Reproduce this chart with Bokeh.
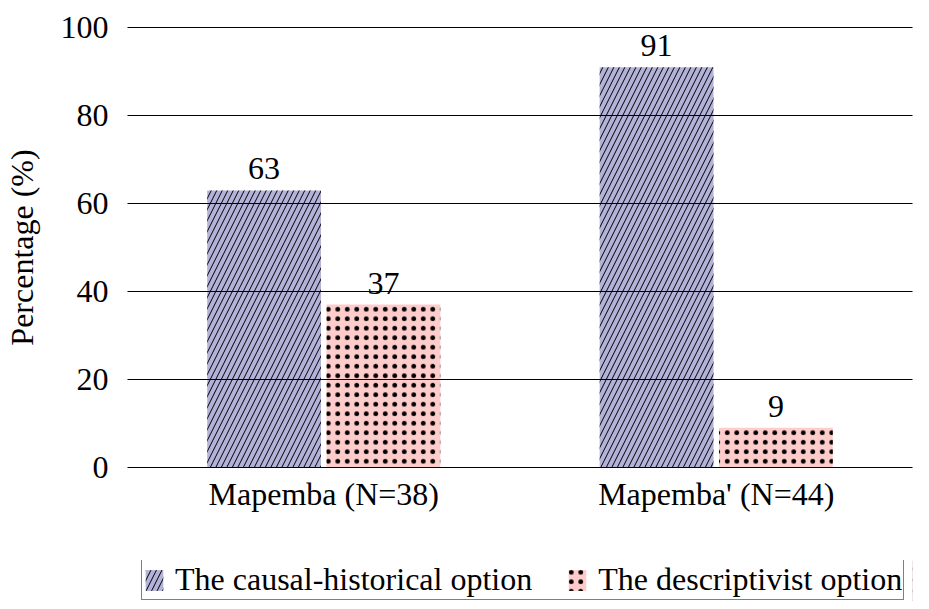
from bokeh.plotting import figure
from bokeh.models import ColumnDataSource, Legend, LegendItem, FactorRange, LabelSet
from bokeh.layouts import column
from bokeh.transform import dodge
from bokeh.embed import file_html
from bokeh.resources import INLINE

categories = ["Mapemba (N=38)", "Mapemba' (N=44)"]
causal = [63, 91]
descriptivist = [37, 9]
series_names = ["The causal-historical option", "The descriptivist option"]
y_ticks = [0, 20, 40, 60, 80, 100]

FONT = "Liberation Serif"
FS = "32px"
BLUE = "#b3b3d9"
PINK = "#ffcccc"
CAUSAL_STYLE = dict(fill_color=BLUE, line_color=None, hatch_pattern="/",
                    hatch_color="black", hatch_scale=11, hatch_weight=1)
DESC_STYLE = dict(fill_color=PINK, line_color=None, hatch_pattern=".",
                  hatch_color="black", hatch_scale=9.5, hatch_weight=1.5)

src = ColumnDataSource(dict(
    cat=categories,
    causal=causal,
    desc=descriptivist,
    causal_lbl=[str(v) for v in causal],
    desc_lbl=[str(v) for v in descriptivist],
))

p = figure(x_range=FactorRange(*categories, range_padding=0), y_range=(-0.3, 100.3),
           width=921, height=560, output_backend="svg", toolbar_location=None,
           min_border_left=125, min_border_right=9, min_border_top=26, min_border_bottom=92)

r1 = p.vbar(x=dodge("cat", -0.152, range=p.x_range), top="causal", width=0.29, bottom=0,
            source=src, **CAUSAL_STYLE)
r2 = p.vbar(x=dodge("cat", 0.152, range=p.x_range), top="desc", width=0.29, bottom=0,
            source=src, **DESC_STYLE)

for off, col in ((-0.152, "causal"), (0.152, "desc")):
    p.add_layout(LabelSet(x=dodge("cat", off, range=p.x_range), y=col, text=col + "_lbl",
                          source=src, text_align="center", text_baseline="alphabetic",
                          y_offset=11, text_font=FONT, text_font_size=FS,
                          text_color="black"))

p.xgrid.visible = False
p.ygrid.grid_line_color = "black"
p.ygrid.grid_line_alpha = 1.0
p.ygrid.grid_line_width = 1
p.ygrid.level = "overlay"
p.yaxis.ticker = y_ticks
p.outline_line_color = None

for ax in (p.xaxis[0], p.yaxis[0]):
    ax.axis_line_color = None
    ax.major_tick_line_color = None
    ax.minor_tick_line_color = None
    ax.major_label_text_font = FONT
    ax.major_label_text_font_size = FS
    ax.major_label_text_color = "black"

p.yaxis.axis_label = "Percentage (%)"
p.yaxis.axis_label_text_font = FONT
p.yaxis.axis_label_text_font_size = FS
p.yaxis.axis_label_text_font_style = "normal"
p.yaxis.axis_label_text_color = "black"
p.yaxis.major_label_standoff = 13
p.yaxis.axis_label_standoff = 18
p.xaxis.major_label_standoff = 1

# separate strip for the legend, below the chart (proxy glyphs lie outside its range)
lf = figure(width=921, height=41, x_range=(0, 1), y_range=(0, 1),
            x_axis_type=None, y_axis_type=None,
            output_backend="svg", toolbar_location=None,
            min_border_left=0, min_border_right=0, min_border_top=0, min_border_bottom=0)
lf.grid.visible = False
lf.outline_line_color = None
proxy = ColumnDataSource(dict(x=[10], top=[1]))
l1 = lf.vbar(x="x", top="top", width=0.1, source=proxy, **CAUSAL_STYLE)
l2 = lf.vbar(x="x", top="top", width=0.1, source=proxy, **DESC_STYLE)
legend = Legend(items=[LegendItem(label=series_names[0], renderers=[l1]),
                       LegendItem(label=series_names[1], renderers=[l2])],
                orientation="horizontal", location=(14, 1),
                label_text_font=FONT, label_text_font_size=FS, label_text_color="black",
                border_line_color="black", border_line_width=1,
                background_fill_color="white", background_fill_alpha=1.0,
                padding=1, spacing=34, margin=0,
                glyph_width=22, glyph_height=26, label_standoff=10,
                label_height=30)
lf.add_layout(legend, "center")

open("out.html", "w").write(file_html(column(p, lf, spacing=0), INLINE))
